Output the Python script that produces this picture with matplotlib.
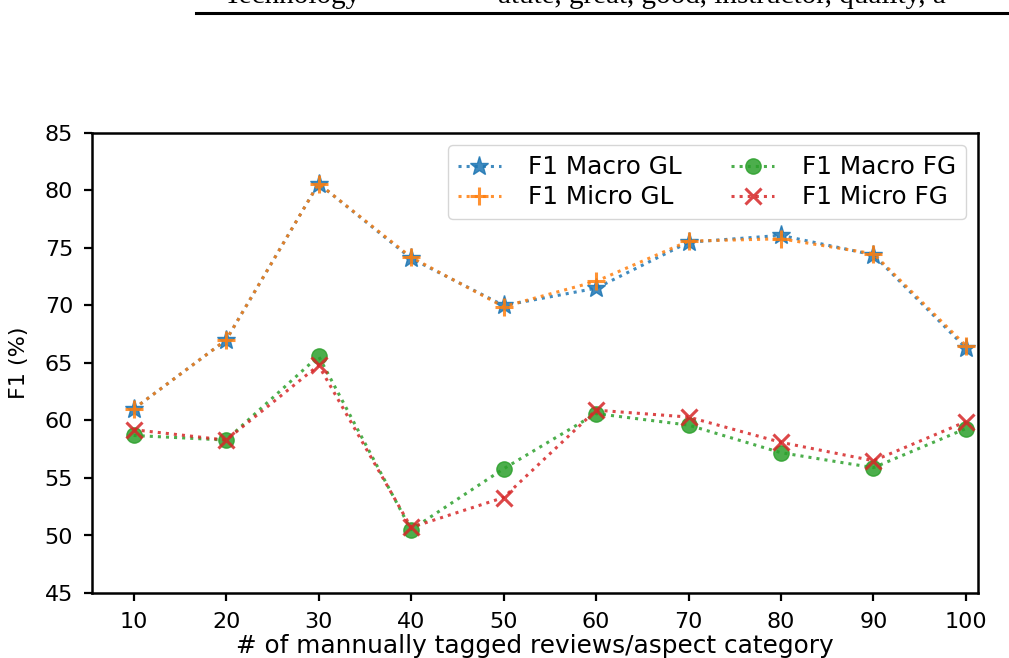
import matplotlib
matplotlib.use("Agg")
import matplotlib.pyplot as plt

x_vals = [10, 20, 30, 40, 50, 60, 70, 80, 90, 100]
macro_gl = [61.0, 67.0, 80.6, 74.1, 70.0, 71.5, 75.5, 76.1, 74.4, 66.3]
micro_gl = [61.0, 67.0, 80.6, 74.2, 69.9, 72.1, 75.6, 75.8, 74.5, 66.5]
macro_fg = [58.7, 58.3, 65.6, 50.5, 55.8, 60.6, 59.6, 57.2, 55.9, 59.3]
micro_fg = [59.2, 58.3, 64.8, 50.7, 53.3, 60.9, 60.3, 58.1, 56.5, 59.9]
y_ticks = [45, 50, 55, 60, 65, 70, 75, 80, 85]

fig = plt.figure(figsize=(10.09, 6.58), dpi=100)
ax = fig.add_axes([92/1009, 1-593/658, (978-92)/1009, (593-133)/658])

tick_fs = 16
xlabel_fs = 17.8
ylabel_fs = 16
leg_fs = 17.8
lw = 2.2
ax.plot(x_vals, macro_gl, ':', color='#1f77b4', marker='*', markersize=14, lw=lw, label='F1 Macro GL', alpha=0.85)
ax.plot(x_vals, micro_gl, ':', color='#ff7f0e', marker='+', markersize=13, mew=2.2, lw=lw, label='F1 Micro GL', alpha=0.85)
ax.plot(x_vals, macro_fg, ':', color='#2ca02c', marker='o', markersize=11, lw=lw, label='F1 Macro FG', alpha=0.85)
ax.plot(x_vals, micro_fg, ':', color='#d62728', marker='x', markersize=11, mew=2.2, lw=lw, label='F1 Micro FG', alpha=0.85)

ax.set_xlim(5.5, 101.3)
ax.set_ylim(45, 85)
ax.set_xticks(x_vals)
ax.set_yticks(y_ticks)
ax.tick_params(labelsize=tick_fs, width=1.6, length=5.5, pad=8)
for s in ax.spines.values():
    s.set_linewidth(1.8)
ax.set_ylabel('F1 (%)', fontsize=ylabel_fs, labelpad=11)
ax.set_xlabel('# of mannually tagged reviews/aspect category', fontsize=xlabel_fs, labelpad=1.5)
ax.legend(loc='upper right', ncol=2, fontsize=leg_fs, columnspacing=2.0, handlelength=1.75,
          handletextpad=1.1, borderpad=0.4, labelspacing=0.25)

# cropped header from the page above the chart
fig.add_artist(plt.Line2D([196/1009, 1.0], [1-13/658, 1-13/658], color='black', lw=2.2))
fig.text(223/1009, 1-3/658, 'Technology', family='Liberation Serif', fontsize=21, va='baseline')
fig.text(498/1009, 1-3/658, 'atute, great, good, instructor, quality, a', family='Liberation Serif',
         fontsize=21, va='baseline')

fig.savefig('out.png', dpi=100)
